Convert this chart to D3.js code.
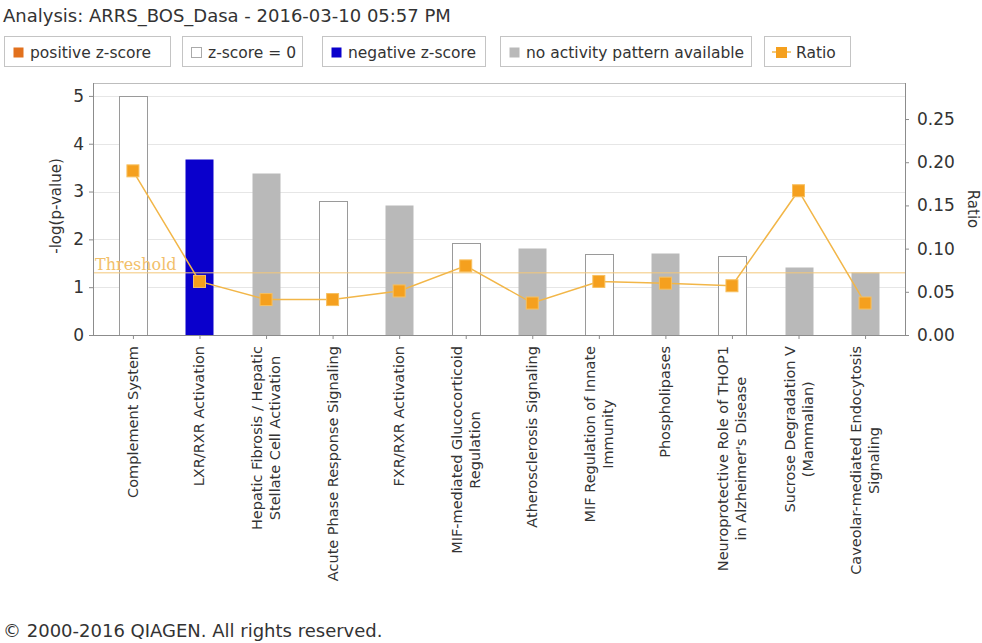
<!DOCTYPE html>
<html>
<head>
<meta charset="utf-8">
<script src="https://cdn.jsdelivr.net/npm/d3@7"></script>
<style>
  html, body { margin: 0; padding: 0; background: #fff; }
  svg { display: block; }
  text { font-family: "DejaVu Sans", sans-serif; fill: #333; }
</style>
</head>
<body>
<svg id="chart" width="982" height="643"></svg>
<script>
// Canonical pathways, in plotted order (multi-line labels split on "\n")
const categories = [
  "Complement System",
  "LXR/RXR Activation",
  "Hepatic Fibrosis / Hepatic\nStellate Cell Activation",
  "Acute Phase Response Signaling",
  "FXR/RXR Activation",
  "MIF-mediated Glucocorticoid\nRegulation",
  "Atherosclerosis Signaling",
  "MIF Regulation of Innate\nImmunity",
  "Phospholipases",
  "Neuroprotective Role of THOP1\nin Alzheimer's Disease",
  "Sucrose Degradation V\n(Mammalian)",
  "Caveolar-mediated Endocytosis\nSignaling"
];
// -log(p-value) per pathway
const logP = [5.0, 3.68, 3.38, 2.80, 2.72, 1.92, 1.81, 1.69, 1.71, 1.66, 1.43, 1.31];
// Ratio per pathway
const ratio = [0.190, 0.062, 0.041, 0.041, 0.051, 0.080, 0.037, 0.062, 0.060, 0.057, 0.167, 0.037];
// z-score status per pathway: "zero", "neg", "none"
const zStatus = ["zero", "neg", "none", "zero", "none", "zero", "none", "zero", "none", "zero", "none", "none"];
const leftTicks = [0, 1, 2, 3, 4, 5];
const rightTicks = [0, 0.05, 0.10, 0.15, 0.20, 0.25];
const threshold = 1.3;

const legendItems = [
  { label: "positive z-score", kind: "pos" },
  { label: "z-score = 0", kind: "zero" },
  { label: "negative z-score", kind: "neg" },
  { label: "no activity pattern available", kind: "none" },
  { label: "Ratio", kind: "ratio" }
];

const colors = { pos: "#e2711d", zero: "#ffffff", neg: "#0a00cc", none: "#b9b9b9" };
const ratioLine = "#f2b648";
const ratioMark = "#f5a01e";

const svg = d3.select("#chart");

// Title
svg.append("text").attr("x", 3).attr("y", 22)
  .style("font-size", "18px")
  .text("Analysis: ARRS_BOS_Dasa - 2016-03-10 05:57 PM");

// Legend
const legendBoxes = [[4, 170], [182, 302], [322, 485], [500, 751], [764, 850]];
const lg = svg.append("g");
legendItems.forEach((d, i) => {
  const [x0, x1] = legendBoxes[i];
  const g = lg.append("g").attr("transform", `translate(${x0},36)`);
  g.append("rect").attr("x", 0.5).attr("y", 0.5).attr("width", x1 - x0).attr("height", 30)
    .attr("fill", "#fff").attr("stroke", "#c4c4c4");
  if (d.kind === "ratio") {
    g.append("line").attr("x1", 8).attr("x2", 27).attr("y1", 16).attr("y2", 16)
      .attr("stroke", ratioLine).attr("stroke-width", 1.5);
    g.append("rect").attr("x", 12).attr("y", 11).attr("width", 11).attr("height", 11)
      .attr("fill", ratioMark);
  } else {
    g.append("rect").attr("x", 9.5).attr("y", 11.5).attr("width", 10).attr("height", 10)
      .attr("fill", colors[d.kind])
      .attr("stroke", d.kind === "zero" ? "#aaa" : "none");
  }
  g.append("text").attr("x", d.kind === "ratio" ? 32 : 26).attr("y", 22)
    .style("font-size", "15.5px").text(d.label);
});

// Plot geometry
const plot = { left: 93, right: 905, top: 83, bottom: 335 };

const x = d3.scalePoint().domain(d3.range(categories.length))
  .range([plot.left, plot.right]).padding(0.6);
const yL = d3.scaleLinear().domain([0, 5.27]).range([plot.bottom, plot.top]);
const yR = d3.scaleLinear().domain([0, 0.2917]).range([plot.bottom, plot.top]);
const barW = 28;

// Gridlines
svg.append("g").selectAll("line").data(leftTicks.filter(t => t > 0)).join("line")
  .attr("x1", plot.left).attr("x2", plot.right)
  .attr("y1", d => Math.round(yL(d)) + 0.5).attr("y2", d => Math.round(yL(d)) + 0.5)
  .attr("stroke", "#e6e6e6");

// Plot frame (top edge)
svg.append("line").attr("x1", plot.left).attr("x2", plot.right)
  .attr("y1", plot.top + 0.5).attr("y2", plot.top + 0.5).attr("stroke", "#bdbdbd");

// Bars
svg.append("g").selectAll("rect").data(logP).join("rect")
  .attr("x", (d, i) => Math.round(x(i) - barW / 2) + 0.5)
  .attr("y", d => Math.round(yL(d)) + 0.5)
  .attr("width", barW)
  .attr("height", d => plot.bottom - Math.round(yL(d)))
  .attr("fill", (d, i) => colors[zStatus[i]])
  .attr("stroke", (d, i) => zStatus[i] === "zero" ? "#9a9a9a" : "none");

// Threshold
svg.append("line").attr("x1", plot.left).attr("x2", plot.right)
  .attr("y1", yL(threshold)).attr("y2", yL(threshold))
  .attr("stroke", "#f3c77a").attr("stroke-width", 1);
svg.append("text").attr("x", 95).attr("y", yL(threshold) - 3)
  .style("font-family", "'DejaVu Serif', 'Liberation Serif', serif")
  .style("font-size", "16px").style("fill", "#f2c06a")
  .text("Threshold");

// Ratio line and markers
const line = d3.line().x((d, i) => x(i)).y(d => yR(d));
svg.append("path").datum(ratio).attr("d", line)
  .attr("fill", "none").attr("stroke", ratioLine).attr("stroke-width", 1.5);
svg.append("g").selectAll("rect").data(ratio).join("rect")
  .attr("x", (d, i) => x(i) - 6).attr("y", d => yR(d) - 6)
  .attr("width", 12).attr("height", 12)
  .attr("fill", ratioMark).attr("stroke", "#f7c060").attr("stroke-width", 1);

// Axes
const axisColor = "#8c8c8c";
const leftAxis = svg.append("g").attr("transform", `translate(${plot.left},0)`)
  .call(d3.axisLeft(yL).tickValues(leftTicks).tickFormat(d3.format("d")).tickSizeOuter(0).tickSize(4).tickPadding(5));
const rightAxis = svg.append("g").attr("transform", `translate(${plot.right},0)`)
  .call(d3.axisRight(yR).tickValues(rightTicks).tickFormat(d3.format(".2f")).tickSizeOuter(0).tickSize(4).tickPadding(8));
const bottomAxis = svg.append("g").attr("transform", `translate(0,${plot.bottom})`)
  .call(d3.axisBottom(x).tickSize(4).tickSizeOuter(0).tickFormat(""));
[leftAxis, rightAxis, bottomAxis].forEach(a => {
  a.select(".domain").attr("stroke", axisColor);
  a.selectAll(".tick line").attr("stroke", axisColor);
  a.selectAll(".tick text").style("font-size", "17px").style("fill", "#333");
});
leftAxis.select(".domain").attr("d", `M0.5,${plot.top}V${plot.bottom}`);
rightAxis.select(".domain").attr("d", `M0.5,${plot.top}V${plot.bottom}`);
bottomAxis.select(".domain").attr("d", `M${plot.left},0.5H${plot.right}`);

// Axis titles
svg.append("text")
  .attr("transform", `translate(61,${(plot.top + plot.bottom) / 2 - 3}) rotate(-90)`)
  .attr("text-anchor", "middle").style("font-size", "15px")
  .text("-log(p-value)");
svg.append("text")
  .attr("transform", `translate(968,${(plot.top + plot.bottom) / 2}) rotate(90)`)
  .attr("text-anchor", "middle").style("font-size", "15px")
  .text("Ratio");

// Category labels, rotated, lines centred within their block
const labelTop = 346;
const lineH = 18;
const catG = svg.append("g");
categories.forEach((c, i) => {
  const lines = c.split("\n");
  const g = catG.append("g")
    .attr("transform", `translate(${x(i)},${labelTop}) rotate(-90)`);
  const texts = lines.map((ln, j) => g.append("text")
    .attr("y", (j - (lines.length - 1) / 2) * lineH + 5)
    .style("font-size", "14.5px")
    .attr("text-anchor", "middle")
    .text(ln));
  const maxLen = d3.max(texts, t => t.node().getComputedTextLength());
  texts.forEach(t => t.attr("x", -maxLen / 2));
});

// Footer
svg.append("text").attr("x", 3).attr("y", 637)
  .style("font-size", "18px")
  .text("© 2000-2016 QIAGEN. All rights reserved.");
</script>
</body>
</html>
